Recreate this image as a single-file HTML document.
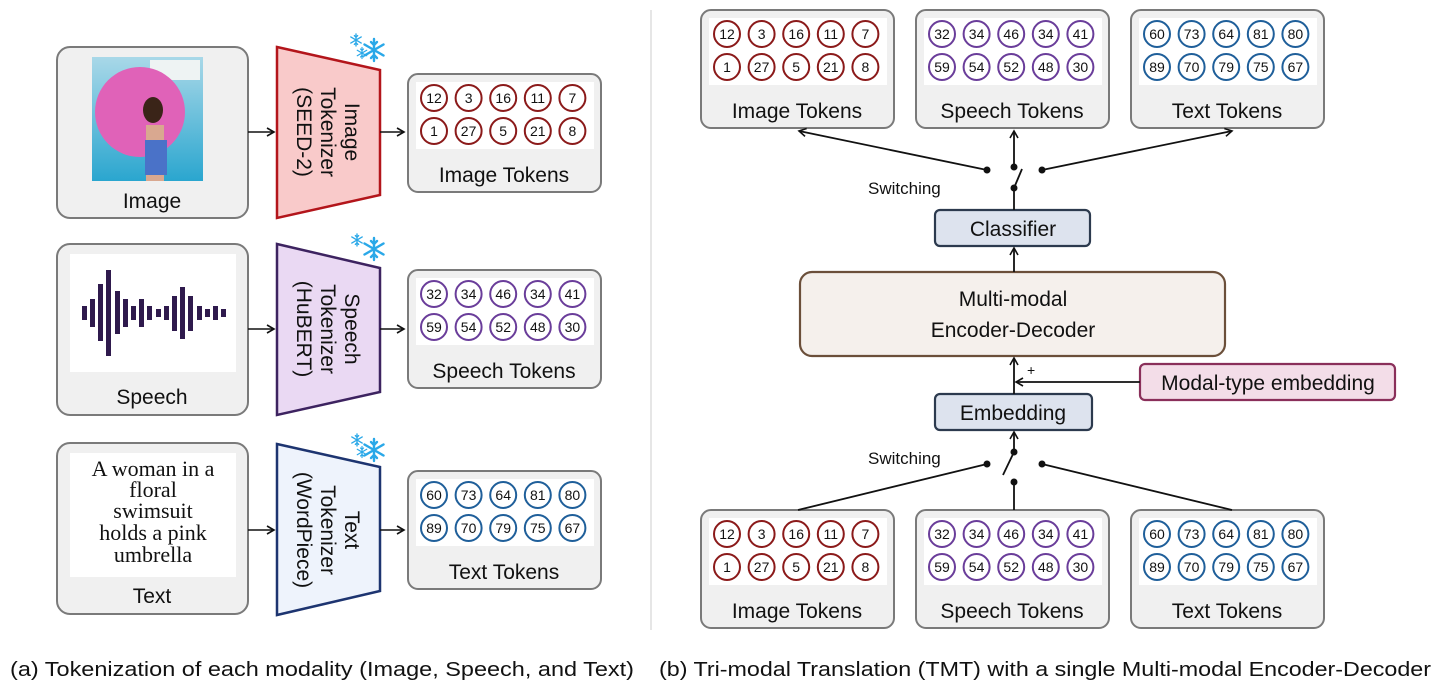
<!DOCTYPE html>
<html><head><meta charset="utf-8"><style>
html,body{margin:0;padding:0;background:#fff}
svg{display:block}
text{font-family:"Liberation Sans",sans-serif;fill:#111}
.lbl{font-size:21px}
.tk{font-size:14px}
</style></head><body>
<svg width="1445" height="698" viewBox="0 0 1445 698" xmlns="http://www.w3.org/2000/svg">
<defs>
<marker id="ah" markerWidth="10" markerHeight="10" refX="8" refY="5" orient="auto" markerUnits="userSpaceOnUse">
<path d="M1,1 L8,5 L1,9" fill="none" stroke="#111" stroke-width="1.6"/></marker>
<linearGradient id="sky" x1="0" y1="0" x2="0" y2="1"><stop offset="0" stop-color="#a9d8e8"/><stop offset="1" stop-color="#2aa6cf"/></linearGradient>
<g id="snow" stroke="#2aa8e8" stroke-width="2.4" stroke-linecap="round">
<path d="M0,-11V11M-9.5,-5.5L9.5,5.5M-9.5,5.5L9.5,-5.5"/>
<path d="M-3,-8L0,-5L3,-8M-3,8L0,5L3,8" fill="none"/>
</g>
</defs>

<line x1="651" y1="10" x2="651" y2="630" stroke="#ccc" stroke-width="1"/>

<rect x="57" y="47" width="191" height="171" rx="13" fill="#f0f0f0" stroke="#7a7a7a" stroke-width="2"/>
<rect x="92" y="57" width="111" height="124" fill="url(#sky)"/>
<rect x="150" y="60" width="50" height="20" fill="#eef3f3"/>
<circle cx="140" cy="112" r="45" fill="#e062b8"/>
<ellipse cx="153" cy="110" rx="10" ry="13" fill="#3a2418"/>
<rect x="146" y="125" width="18" height="56" fill="#d9a890"/>
<rect x="145" y="140" width="22" height="35" fill="#4a72c8"/>
<text x="152" y="208" text-anchor="middle" class="lbl">Image</text>
<line x1="248" y1="132" x2="274" y2="132" stroke="#111" stroke-width="1.6" marker-end="url(#ah)"/>
<polygon points="277,47 380,70 380,195 277,218" fill="#f9caca" stroke="#b3151b" stroke-width="2.5"/>
<text transform="translate(328,132) rotate(90)" text-anchor="middle" class="lbl"><tspan x="0" y="-17">Image</tspan><tspan x="0" y="7">Tokenizer</tspan><tspan x="0" y="31">(SEED-2)</tspan></text>
<use href="#snow" transform="translate(374,50)"/><use href="#snow" transform="translate(356,40) scale(0.55)"/><use href="#snow" transform="translate(362,53) scale(0.5)"/>
<line x1="380" y1="132" x2="404" y2="132" stroke="#111" stroke-width="1.6" marker-end="url(#ah)"/>

<rect x="57" y="244" width="191" height="171" rx="13" fill="#f0f0f0" stroke="#7a7a7a" stroke-width="2"/>
<rect x="70" y="254" width="166" height="118" fill="#fff"/>
<g fill="#2f1a4d">
<rect x="82" y="306" width="5" height="14"/><rect x="90" y="299" width="5" height="28"/><rect x="98" y="284" width="5" height="57"/><rect x="106" y="270" width="5" height="86"/><rect x="115" y="291" width="5" height="43"/><rect x="123" y="299" width="5" height="28"/><rect x="131" y="306" width="5" height="14"/><rect x="139" y="299" width="5" height="28"/><rect x="147" y="306" width="5" height="14"/><rect x="156" y="309" width="5" height="8"/><rect x="164" y="306" width="5" height="14"/><rect x="172" y="296" width="5" height="35"/><rect x="180" y="287" width="5" height="52"/><rect x="188" y="296" width="5" height="35"/><rect x="197" y="306" width="5" height="14"/><rect x="205" y="309" width="5" height="8"/><rect x="213" y="306" width="5" height="14"/><rect x="221" y="309" width="5" height="8"/>
</g>
<text x="152" y="404" text-anchor="middle" class="lbl">Speech</text>
<line x1="248" y1="329" x2="274" y2="329" stroke="#111" stroke-width="1.6" marker-end="url(#ah)"/>
<polygon points="277,244 380,268 380,392 277,415" fill="#ead9f3" stroke="#3d2360" stroke-width="2.5"/>
<text transform="translate(328,329) rotate(90)" text-anchor="middle" class="lbl"><tspan x="0" y="-17">Speech</tspan><tspan x="0" y="7">Tokenizer</tspan><tspan x="0" y="31">(HuBERT)</tspan></text>
<use href="#snow" transform="translate(374,249)"/><use href="#snow" transform="translate(357,240) scale(0.55)"/>
<line x1="380" y1="329" x2="404" y2="329" stroke="#111" stroke-width="1.6" marker-end="url(#ah)"/>

<rect x="57" y="443" width="191" height="171" rx="13" fill="#f0f0f0" stroke="#7a7a7a" stroke-width="2"/>
<rect x="70" y="453" width="166" height="124" fill="#fff"/>
<text text-anchor="middle" style="font-family:'Liberation Serif',serif;font-size:22px"><tspan x="153" y="476">A woman in a</tspan><tspan x="153" y="497">floral</tspan><tspan x="153" y="518">swimsuit</tspan><tspan x="153" y="540">holds a pink</tspan><tspan x="153" y="562">umbrella</tspan></text>
<text x="152" y="603" text-anchor="middle" class="lbl">Text</text>
<line x1="248" y1="530" x2="274" y2="530" stroke="#111" stroke-width="1.6" marker-end="url(#ah)"/>
<polygon points="277,444 380,467 380,591 277,615" fill="#eef3fc" stroke="#1d3470" stroke-width="2.5"/>
<text transform="translate(328,530) rotate(90)" text-anchor="middle" class="lbl"><tspan x="0" y="-17">Text</tspan><tspan x="0" y="7">Tokenizer</tspan><tspan x="0" y="31">(WordPiece)</tspan></text>
<use href="#snow" transform="translate(374,450)"/><use href="#snow" transform="translate(357,440) scale(0.55)"/><use href="#snow" transform="translate(362,452) scale(0.5)"/>
<line x1="380" y1="530" x2="404" y2="530" stroke="#111" stroke-width="1.6" marker-end="url(#ah)"/>

<g id="tokboxes"></g>

<rect x="800" y="272" width="425" height="84" rx="12" fill="#f5f0ec" stroke="#6b4f3a" stroke-width="2.2"/>
<text x="1013" y="306" text-anchor="middle" class="lbl">Multi-modal</text>
<text x="1013" y="337" text-anchor="middle" class="lbl">Encoder-Decoder</text>
<rect x="935" y="210" width="155" height="36" rx="5" fill="#dde3ee" stroke="#2c3a4e" stroke-width="2.2"/>
<text x="1013" y="236" text-anchor="middle" class="lbl">Classifier</text>
<rect x="935" y="394" width="157" height="36" rx="5" fill="#dde3ee" stroke="#2c3a4e" stroke-width="2.2"/>
<text x="1013" y="420" text-anchor="middle" class="lbl">Embedding</text>
<rect x="1140" y="364" width="255" height="36" rx="5" fill="#f3dde8" stroke="#8a2f5a" stroke-width="2.2"/>
<text x="1268" y="390" text-anchor="middle" class="lbl">Modal-type embedding</text>

<g stroke="#111" stroke-width="1.8" fill="none">
<line x1="1014" y1="272" x2="1014" y2="248" marker-end="url(#ah)"/>
<line x1="1014" y1="394" x2="1014" y2="358" marker-end="url(#ah)"/>
<line x1="1140" y1="382" x2="1016" y2="382" marker-end="url(#ah)"/>
<line x1="1014" y1="210" x2="1014" y2="188"/>
<line x1="1014" y1="188" x2="1022" y2="169"/>
<line x1="1014" y1="167" x2="1014" y2="131" marker-end="url(#ah)"/>
<line x1="987" y1="170" x2="799" y2="131" marker-end="url(#ah)"/>
<line x1="1042" y1="170" x2="1232" y2="131" marker-end="url(#ah)"/>
<line x1="1014" y1="452" x2="1014" y2="432" marker-end="url(#ah)"/>
<line x1="1014" y1="452" x2="1003" y2="475"/>
<line x1="1014" y1="482" x2="1014" y2="510"/>
<line x1="987" y1="464" x2="798" y2="510"/>
<line x1="1042" y1="464" x2="1232" y2="510"/>
</g>
<g fill="#111">
<circle cx="1014" cy="188" r="3.5"/><circle cx="1014" cy="167" r="3.5"/><circle cx="987" cy="170" r="3.5"/><circle cx="1042" cy="170" r="3.5"/>
<circle cx="1014" cy="452" r="3.5"/><circle cx="1014" cy="482" r="3.5"/><circle cx="987" cy="464" r="3.5"/><circle cx="1042" cy="464" r="3.5"/>
</g>
<text x="868" y="194" style="font-size:17px">Switching</text>
<text x="868" y="464" style="font-size:17px">Switching</text>
<text x="1027" y="375" style="font-size:14px">+</text>

<text x="10" y="676" style="font-size:20px" textLength="624" lengthAdjust="spacingAndGlyphs">(a) Tokenization of each modality (Image, Speech, and Text)</text>
<text x="659" y="676" style="font-size:20px" textLength="772" lengthAdjust="spacingAndGlyphs">(b) Tri-modal Translation (TMT) with a single Multi-modal Encoder-Decoder</text>
</svg>
<script>
(function(){
var NS="http://www.w3.org/2000/svg",g=document.getElementById("tokboxes");
var sets={img:{c:"#8b1a1a",n:[12,3,16,11,7,1,27,5,21,8],l:"Image Tokens"},
sp:{c:"#6a3d9a",n:[32,34,46,34,41,59,54,52,48,30],l:"Speech Tokens"},
tx:{c:"#1f5f9a",n:[60,73,64,81,80,89,70,79,75,67],l:"Text Tokens"}};
function el(t,a,txt){var e=document.createElementNS(NS,t);for(var k in a)e.setAttribute(k,a[k]);if(txt!=null)e.textContent=txt;g.appendChild(e);return e;}
function box(x,y,s){var S=sets[s];
el("rect",{x:x,y:y,width:193,height:118,rx:10,fill:"#f0f0f0",stroke:"#7a7a7a","stroke-width":2});
el("rect",{x:x+8,y:y+8,width:178,height:67,fill:"#fff"});
for(var i=0;i<10;i++){var cx=x+26+(i%5)*34.6,cy=y+24+Math.floor(i/5)*33;
el("circle",{cx:cx,cy:cy,r:13,fill:"#fff",stroke:S.c,"stroke-width":2});
el("text",{x:cx,y:cy+5,"text-anchor":"middle","class":"tk"},S.n[i]);}
el("text",{x:x+96,y:y+108,"text-anchor":"middle","class":"lbl"},S.l);}
box(408,74,"img");box(408,270,"sp");box(408,471,"tx");
box(701,10,"img");box(916,10,"sp");box(1131,10,"tx");
box(701,510,"img");box(916,510,"sp");box(1131,510,"tx");
})();
</script>
</body></html>
